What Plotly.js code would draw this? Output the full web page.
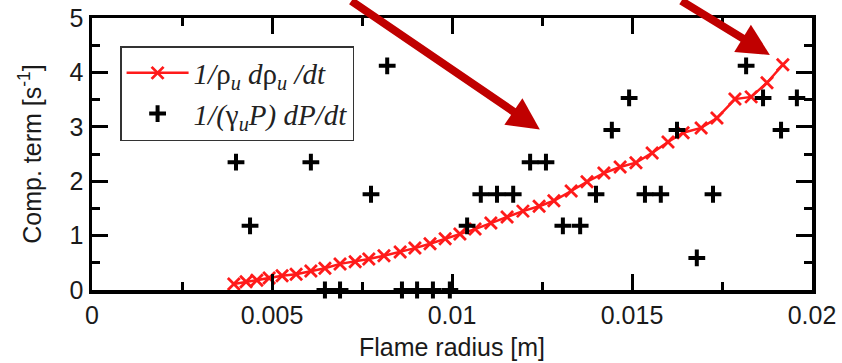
<!DOCTYPE html>
<html>
<head>
<meta charset="utf-8">
<script src="https://cdn.plot.ly/plotly-3.0.1.min.js"></script>
<style>html,body{margin:0;padding:0;background:#fff;}#chart{width:842px;height:363px;}</style>
</head>
<body>
<div id="chart"></div>
<script>
// Flame radius [m] and 1/rho_u drho_u/dt [1/s]
const rhoRadius = [0.00394, 0.00428, 0.00458, 0.00492, 0.00528, 0.00567, 0.00608, 0.00647, 0.00689, 0.00731,
  0.00769, 0.00811, 0.00856, 0.00897, 0.00939, 0.00981, 0.01022, 0.01064, 0.01108, 0.01153,
  0.01197, 0.01242, 0.01283, 0.01331, 0.01375, 0.01422, 0.01467, 0.01511, 0.01556, 0.01600,
  0.01642, 0.01692, 0.01736, 0.01786, 0.01831, 0.01875, 0.01919];
const rhoTerm = [0.11, 0.15, 0.18, 0.22, 0.26, 0.29, 0.35, 0.40, 0.48, 0.52,
  0.57, 0.63, 0.70, 0.77, 0.85, 0.94, 1.03, 1.12, 1.23, 1.34,
  1.45, 1.54, 1.64, 1.82, 1.99, 2.15, 2.26, 2.34, 2.52, 2.72,
  2.89, 2.98, 3.16, 3.51, 3.55, 3.81, 4.14];

// Flame radius [m] and 1/(gamma_u P) dP/dt [1/s]
const pRadius = [0.00400, 0.00439, 0.00608, 0.00647, 0.00689, 0.00775, 0.00820, 0.00861, 0.00903, 0.00947,
  0.00994, 0.01042, 0.01080, 0.01125, 0.01170, 0.01217, 0.01261, 0.01308, 0.01356, 0.01400,
  0.01444, 0.01492, 0.01536, 0.01580, 0.01625, 0.01680, 0.01725, 0.01817, 0.01864, 0.01914, 0.01958];
const pTerm = [2.35, 1.18, 2.35, 0, 0, 1.76, 4.12, 0, 0, 0,
  0, 1.18, 1.76, 1.76, 1.76, 2.35, 2.35, 1.18, 1.18, 1.76,
  2.94, 3.53, 1.76, 1.76, 2.94, 0.59, 1.76, 4.12, 3.53, 2.94, 3.53];

const seriesNames = [
  "<i>1/</i>ρ<sub><i>u</i></sub> <i>d</i>ρ<sub><i>u</i></sub> <i>/dt</i>",
  "<i>1/(</i>γ<sub><i>u</i></sub><i>P) dP/dt</i>"
];

// arrow tips (data coords) pointing at the two regions
const arrowTipX = [0.01244, 0.01883];
const arrowTipY = [2.95, 4.32];

const traces = [
  {
    x: rhoRadius, y: rhoTerm, name: seriesNames[0], type: 'scatter', mode: 'lines+markers',
    line: {color: '#ff1a1a', width: 2.5},
    marker: {symbol: 'x-thin', size: 12, line: {color: '#ff1a1a', width: 2.8}, color: '#ff1a1a'},
    cliponaxis: false
  },
  {
    x: pRadius, y: pTerm, name: seriesNames[1], type: 'scatter', mode: 'markers',
    marker: {symbol: 'cross-thin', size: 12, line: {color: '#000', width: 4}, color: '#000'},
    cliponaxis: false
  }
];

const axisCommon = {
  showline: true, linecolor: '#000', linewidth: 3.5, mirror: 'allticks',
  ticks: 'inside', ticklen: 16, tickwidth: 3, tickcolor: '#000',
  showgrid: false, zeroline: false,
  tickfont: {family: 'Liberation Sans, Arial, sans-serif', size: 25, color: '#1a1a1a'}
};

const layout = {
  width: 842, height: 363,
  margin: {l: 92, r: 30, t: 18, b: 73},
  paper_bgcolor: '#fff', plot_bgcolor: '#fff',
  showlegend: true,
  legend: {
    x: 0.039, y: 0.897, xanchor: 'left', yanchor: 'top',
    bgcolor: '#fff', bordercolor: '#333', borderwidth: 1.5,
    font: {family: 'Liberation Serif, Times New Roman, serif', size: 29, color: '#222'},
    itemwidth: 62
  },
  xaxis: Object.assign({}, axisCommon, {
    range: [0, 0.02], tickvals: [0, 0.005, 0.01, 0.015, 0.02], ticktext: ['0', '0.005', '0.01', '0.015', '0.02'],
    minor: {dtick: 0.0025, ticks: 'inside', ticklen: 8, tickwidth: 3, tickcolor: '#000', showgrid: false},
    title: {text: 'Flame radius [m]', font: {family: 'Liberation Sans, Arial, sans-serif', size: 25, color: '#1a1a1a'}, standoff: 12}
  }),
  yaxis: Object.assign({}, axisCommon, {
    range: [0, 5], dtick: 1,
    minor: {dtick: 0.5, ticks: 'inside', ticklen: 8, tickwidth: 3, tickcolor: '#000', showgrid: false},
    title: {text: 'Comp. term [s<sup>-1</sup>]', font: {family: 'Liberation Sans, Arial, sans-serif', size: 25, color: '#1a1a1a'}, standoff: 22}
  }),
  annotations: arrowTipX.map((x, i) => ({
    x: x, y: arrowTipY[i], xref: 'x', yref: 'y', text: '', showarrow: true,
    arrowhead: 2, arrowsize: 0.8, arrowwidth: 8, arrowcolor: '#c00000',
    ax: i === 0 ? -190 : -90, ay: i === 0 ? -148 : -70, standoff: 0
  }))
};

Plotly.newPlot('chart', traces, layout, {displayModeBar: false, staticPlot: true});
</script>
</body>
</html>
